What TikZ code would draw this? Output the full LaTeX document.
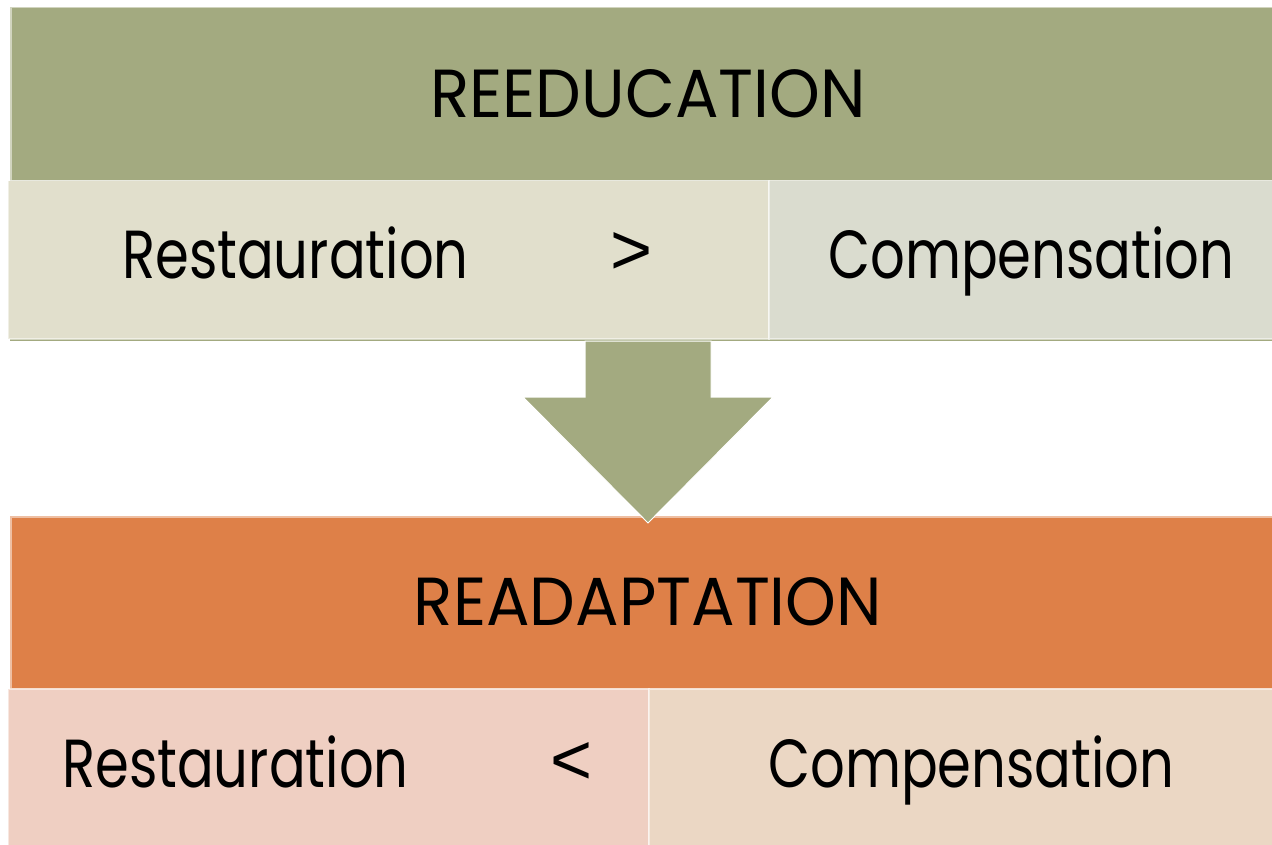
\documentclass[tikz,border=0pt]{standalone}
\usepackage{fontspec}
\setmainfont{Poppins}
\newfontfamily\capsfont{Poppins}[FakeStretch=0.95]
\newfontfamily\lowfont{Poppins}[FakeStretch=0.80]
\newfontfamily\signfont{Liberation Sans}
\definecolor{sage}{HTML}{A3AA80}
\definecolor{sagepale}{HTML}{E1DFCC}
\definecolor{sagegrey}{HTML}{DADCCF}
\definecolor{rust}{HTML}{DE8048}
\definecolor{rustpale}{HTML}{EFCFC2}
\definecolor{rustsand}{HTML}{EBD7C4}
\tikzset{
  panel/.style={draw=white, draw opacity=0.5, line width=1.5pt, inner sep=0pt, anchor=north west},
  title/.style={inner sep=0pt, anchor=base, font=\capsfont\fontsize{68}{72}\selectfont},
  word/.style={inner sep=0pt, anchor=base west, font=\lowfont\fontsize{68}{72}\selectfont},
  sign/.style={inner sep=0pt, anchor=base west, font=\signfont\fontsize{72}{76}\selectfont}
}
\begin{document}
\begin{tikzpicture}[x=1pt,y=-1pt]
\useasboundingbox (0,0) rectangle (1272,845);
% backing strips
\fill[sage] (10,7) rectangle (1272,341);
\fill[rust] (10,516) rectangle (1272,845);
% top block
\node[panel, fill=sage, minimum width=1262pt, minimum height=173pt] (reeduc) at (10,7) {};
\node[panel, fill=sagepale, minimum width=761pt, minimum height=158pt] (restA) at (7,180) {};
\node[panel, fill=sagegrey, minimum width=504pt, minimum height=158pt] (compA) at (768,180) {};
% bottom block
\node[panel, fill=rust, minimum width=1262pt, minimum height=172pt] (readap) at (10,516) {};
\node[panel, fill=rustpale, minimum width=641pt, minimum height=160pt] (restB) at (7,688) {};
\node[panel, fill=rustsand, minimum width=624pt, minimum height=160pt] (compB) at (648,688) {};
% arrow
\fill[sage, draw=white, line width=1pt] (585,341) -- (711,341) -- (711,397) -- (773,397)
  -- (648,523) -- (523,397) -- (585,397) -- cycle;
% texts
\node[title] (t1) at (648,118) {REEDUCATION};
\node[word] (t2) at (122,278) {Restauration};
\node[sign] (t3) at (610,275) {>};
\node[word] (t4) at (828,278) {Compensation};
\node[title] (t5) at (648,625) {READAPTATION};
\node[word] (t6) at (62,787) {Restauration};
\node[sign] (t7) at (550,784) {<};
\node[word] (t8) at (768,787) {Compensation};
\end{tikzpicture}
\end{document}
